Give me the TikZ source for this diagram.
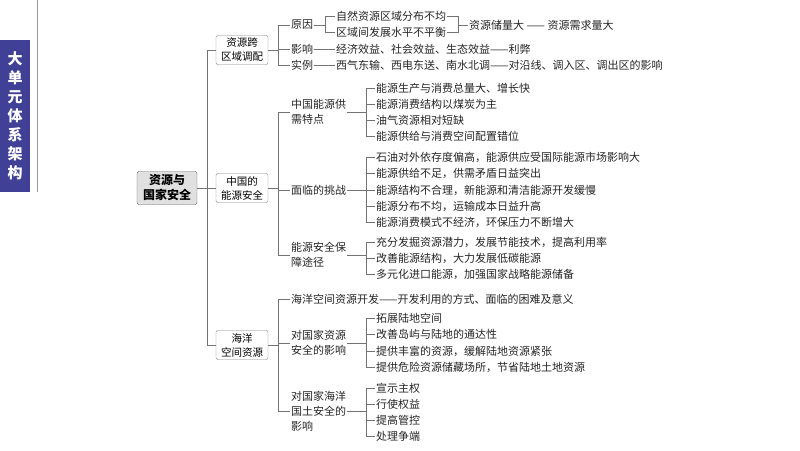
\documentclass[tikz,border=0pt]{standalone}
\usepackage{fontspec}
\setmainfont{Noto Sans CJK SC}
\begin{document}
\begin{tikzpicture}[x=1pt,y=-1pt,
  ln/.style={draw=black!55,line width=0.6pt},
  tx/.style={anchor=west,inner sep=1pt,font=\fontsize{11}{15}\selectfont,text=black!85},
  tx2/.style={tx,align=left},
  bx/.style={draw=black!50,rounded corners=2pt,fill=white,align=center,inner sep=2pt,minimum width=52pt,minimum height=29pt,font=\fontsize{10.5}{14}\selectfont},
  root/.style={bx,fill=black!12,font=\bfseries\fontsize{12}{15}\selectfont,minimum width=60pt,minimum height=33pt,draw=black!60}]
\useasboundingbox (0,0) rectangle (800,450);
\fill[white] (0,0) rectangle (800,450);
\fill[blue!45!black!75!white] (0,40) rectangle (30,192);
\node[text=white,font=\bfseries\fontsize{15}{19}\selectfont,align=center] (ban) at (15,116) {大\\单\\元\\体\\系\\架\\构};
\draw[black!40,line width=1pt] (37,0) -- (37,192);
\newcommand\grp[5]{\coordinate (gv) at (#2,0);
  \draw[ln] (#1.east) -- (#1.east -| gv);
  \draw[ln] (#3.west -| gv) -- (#4.west -| gv);
  \foreach \c in {#5}{\draw[ln] (\c.west) -- (\c.west -| gv);}}
\node[root] (r) at (167,188) {资源与\\国家安全};
\node[bx] (b1) at (242,50) {资源跨\\区域调配};
\node[bx] (b2) at (242,188) {中国的\\能源安全};
\node[bx] (b3) at (242,345) {海洋\\空间资源};
\grp{r}{207}{b1}{b3}{b1,b2,b3}
% branch 1
\node[tx] (a1) at (290,25) {原因};
\node[tx] (a2) at (290,49) {影响};
\node[tx] (a3) at (290,65) {实例};
\grp{b1}{278}{a1}{a3}{a1,a2,a3}
\node[tx] (a11) at (335,16) {自然资源区域分布不均};
\node[tx] (a12) at (335,32) {区域间发展水平不平衡};
\grp{a1}{325}{a11}{a12}{a11,a12}
\node[tx] (a13) at (468,25) {资源储量大 —— 资源需求量大};
\coordinate (gw) at (458,0);
\draw[ln] (a11.east) -- (a11.east -| gw) -- (a12.east -| gw) -- (a12.east);
\draw[ln] (a13.west) -- (a13.west -| gw);
\node[tx] (a21) at (335,49) {经济效益、社会效益、生态效益——利弊};
\draw[ln] (a2.east) -- (a21.west);
\node[tx] (a31) at (335,65) {西气东输、西电东送、南水北调——对沿线、调入区、调出区的影响};
\draw[ln] (a3.east) -- (a31.west);
% branch 2
\node[tx2] (c1) at (290,112) {中国能源供\\需特点};
\node[tx] (c2) at (290,190) {面临的挑战};
\node[tx2] (c3) at (290,255) {能源安全保\\障途径};
\grp{b2}{278}{c1}{c3}{c1,c2,c3}
\node[tx] (c11) at (375,88) {能源生产与消费总量大、增长快};
\node[tx] (c12) at (375,104) {能源消费结构以煤炭为主};
\node[tx] (c13) at (375,120) {油气资源相对短缺};
\node[tx] (c14) at (375,136) {能源供给与消费空间配置错位};
\grp{c1}{366}{c11}{c14}{c11,c12,c13,c14}
\node[tx] (c21) at (375,157) {石油对外依存度偏高，能源供应受国际能源市场影响大};
\node[tx] (c22) at (375,173) {能源供给不足，供需矛盾日益突出};
\node[tx] (c23) at (375,190) {能源结构不合理，新能源和清洁能源开发缓慢};
\node[tx] (c24) at (375,206) {能源分布不均，运输成本日益升高};
\node[tx] (c25) at (375,222) {能源消费模式不经济，环保压力不断增大};
\grp{c2}{366}{c21}{c25}{c21,c22,c23,c24,c25}
\node[tx] (c31) at (375,242) {充分发掘资源潜力，发展节能技术，提高利用率};
\node[tx] (c32) at (375,258) {改善能源结构，大力发展低碳能源};
\node[tx] (c33) at (375,274) {多元化进口能源，加强国家战略能源储备};
\grp{c3}{366}{c31}{c33}{c31,c32,c33}
% branch 3
\node[tx] (d1) at (290,299) {海洋空间资源开发——开发利用的方式、面临的困难及意义};
\node[tx2] (d2) at (290,343) {对国家资源\\安全的影响};
\node[tx2] (d3) at (290,411) {对国家海洋\\国土安全的\\影响};
\grp{b3}{278}{d1}{d3}{d1,d2,d3}
\node[tx] (d21) at (375,318) {拓展陆地空间};
\node[tx] (d22) at (375,334) {改善岛屿与陆地的通达性};
\node[tx] (d23) at (375,351) {提供丰富的资源，缓解陆地资源紧张};
\node[tx] (d24) at (375,367) {提供危险资源储藏场所，节省陆地土地资源};
\grp{d2}{366}{d21}{d24}{d21,d22,d23,d24}
\node[tx] (d31) at (375,388) {宣示主权};
\node[tx] (d32) at (375,404) {行使权益};
\node[tx] (d33) at (375,420) {提高管控};
\node[tx] (d34) at (375,436) {处理争端};
\grp{d3}{366}{d31}{d34}{d31,d32,d33,d34}
\end{tikzpicture}
\end{document}
